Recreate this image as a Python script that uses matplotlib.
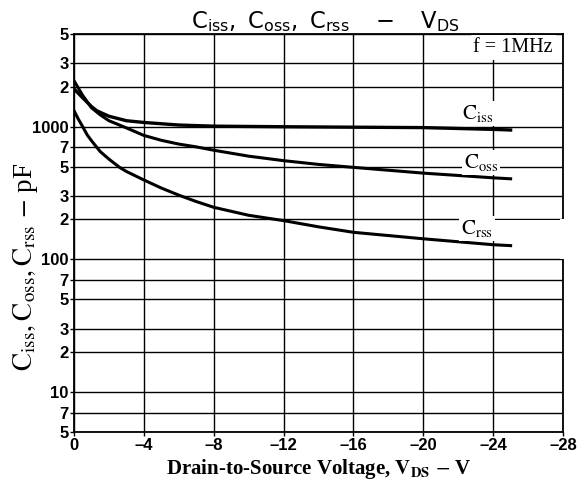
import matplotlib
matplotlib.use("Agg")
import matplotlib.pyplot as plt
from matplotlib.patches import Rectangle
from matplotlib.ticker import FixedLocator, FixedFormatter

# Kurwy pojemnosci (V_DS w woltach, C w pF)
v_ciss = [0, -0.5, -1, -1.3, -2, -3, -4, -6, -8, -12, -16, -20, -24, -25]
ciss = [1930, 1650, 1420, 1320, 1200, 1110, 1077, 1030, 1010, 1000, 992, 985, 955, 945]

v_coss = [0, -0.5, -1, -1.5, -2, -3, -4, -5, -6, -7, -8, -10, -12, -14, -16, -20, -24, -25]
coss = [2220, 1720, 1390, 1230, 1110, 980, 860, 790, 740, 705, 665, 600, 555, 520, 494, 447, 412, 405]

v_crss = [0, -0.25, -0.5, -0.75, -1, -1.5, -2, -2.6, -3, -4, -5, -6, -7, -8, -10, -12, -14, -16,
          -20, -24, -25]
crss = [1320, 1140, 1000, 870, 785, 650, 570, 495, 460, 397, 345, 305, 273, 247, 215, 196, 176,
        160, 143, 129, 127]

x_ticks = [0, -4, -8, -12, -16, -20, -24, -28]
x_tick_labels = ["0", "\u20134", "\u20138", "\u201312", "\u201316", "\u201320", "\u201324", "\u201328"]
y_ticks = [5, 7, 10, 20, 30, 50, 70, 100, 200, 300, 500, 700, 1000, 2000, 3000, 5000]
y_tick_labels = ["5", "7", "10", "2", "3", "5", "7", "100", "2", "3", "5", "7", "1000", "2", "3", "5"]


def main():
    fig = plt.figure(figsize=(5.84, 4.90), dpi=100)
    ax = fig.add_axes([74 / 584, 1 - 432 / 490, (563 - 74) / 584, (432 - 34) / 490])

    ax.set_yscale("log")
    ax.set_xlim(0, -28)
    ax.set_ylim(5, 5000)

    ax.xaxis.set_major_locator(FixedLocator(x_ticks))
    ax.xaxis.set_major_formatter(FixedFormatter(x_tick_labels))
    ax.yaxis.set_major_locator(FixedLocator(y_ticks))
    ax.yaxis.set_major_formatter(FixedFormatter(y_tick_labels))
    ax.yaxis.set_minor_locator(FixedLocator([]))

    ax.grid(True, which="major", color="black", linewidth=1.0)
    ax.set_axisbelow(True)
    for s in ax.spines.values():
        s.set_linewidth(1.3)

    ax.tick_params(axis="both", length=3, width=1, pad=1)
    for lab in ax.get_xticklabels() + ax.get_yticklabels():
        lab.set_fontfamily("Liberation Sans")
        lab.set_fontweight("bold")
        lab.set_fontsize(12)

    # Krzywe
    ax.plot(v_ciss, ciss, color="black", linewidth=2.4, zorder=4)
    ax.plot(v_coss, coss, color="black", linewidth=2.2, zorder=4)
    ax.plot(v_crss, crss, color="black", linewidth=2.2, zorder=4)

    # Biale pola pod etykietami (jak w skanie)
    ax.add_patch(Rectangle((-24.1, 127), -4.3, 72, facecolor="white",
                           edgecolor="none", zorder=3, clip_on=False))
    ax.add_patch(Rectangle((-27.8, 101), -0.6, 100, facecolor="white",
                           edgecolor="none", zorder=3, clip_on=False))

    box = dict(facecolor="white", edgecolor="none", pad=1.5)
    ax.text(-23.1, 1250, r"$\mathrm{C_{iss}}$", fontsize=15, ha="center", va="center",
            math_fontfamily="stix", bbox=box, zorder=5)
    ax.text(-23.3, 536, r"$\mathrm{C_{oss}}$", fontsize=15, ha="center", va="center",
            math_fontfamily="stix", bbox=box, zorder=5)
    ax.text(-23.1, 171, r"$\mathrm{C_{rss}}$", fontsize=15, ha="center", va="center",
            math_fontfamily="stix", bbox=box, zorder=5)
    ax.text(-25.15, 3950, "f = 1MHz", fontsize=14.5, ha="center", va="center",
            family="Liberation Serif", bbox=dict(facecolor="white", edgecolor="none", pad=2),
            zorder=5)

    ax.set_title(r"$\mathrm{C_{iss}, \ C_{oss}, \ C_{rss} \quad - \quad V_{DS}}$",
                 fontsize=16.3, math_fontfamily="dejavusans", pad=3, x=0.515)
    ax.set_xlabel(r"Drain-to-Source Voltage, $\mathbf{V_{DS}}$ $-$ V", fontsize=15,
                  family="Liberation Serif", fontweight="bold", math_fontfamily="stix",
                  labelpad=3)
    ax.set_ylabel(r"$\mathrm{C_{iss}, C_{oss}, C_{rss}}$ $-$ pF", fontsize=19.5,
                  family="Liberation Serif", math_fontfamily="stix")
    ax.yaxis.set_label_coords(-0.07, 0.415)

    fig.savefig("out.png", dpi=100)


if __name__ == "__main__":
    main()
